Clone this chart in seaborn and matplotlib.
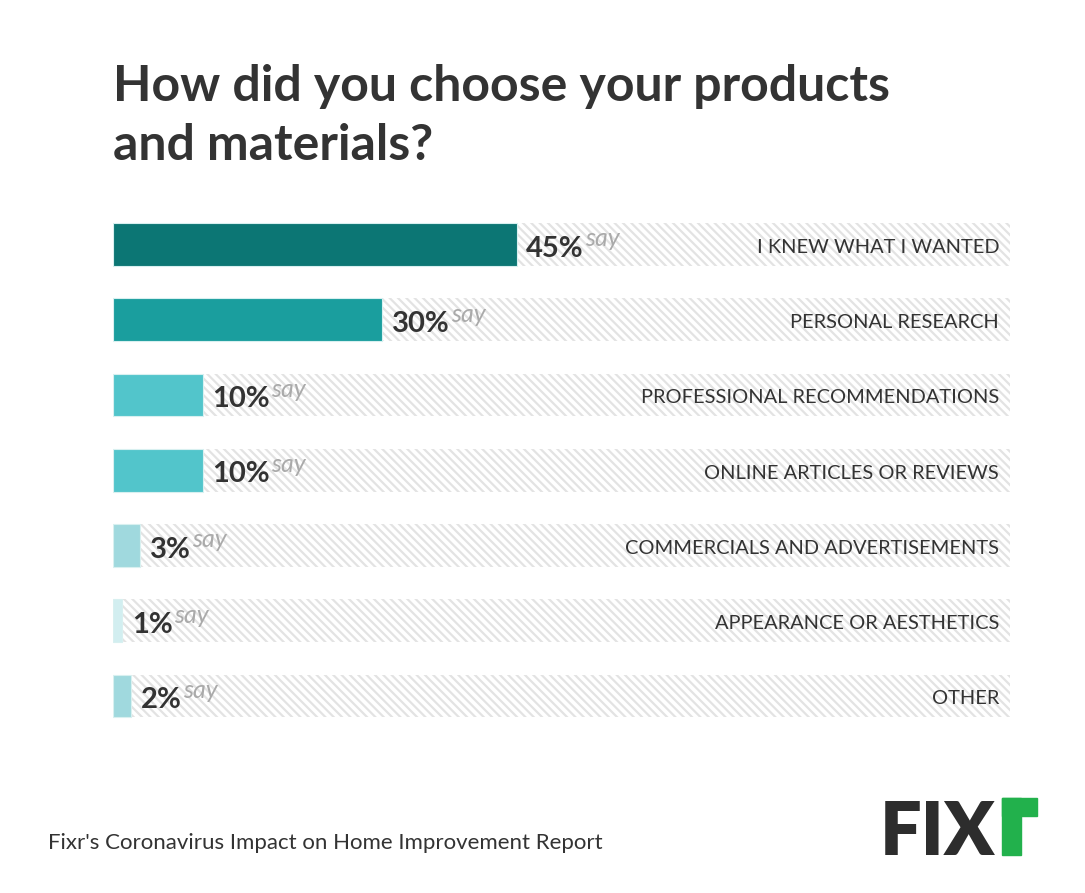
import matplotlib
matplotlib.use("Agg")
import matplotlib.pyplot as plt
import matplotlib.patches as mpatches
import seaborn as sns
import pandas as pd

# Datos
categorias = [
    "I KNEW WHAT I WANTED",
    "PERSONAL RESEARCH",
    "PROFESSIONAL RECOMMENDATIONS",
    "ONLINE ARTICLES OR REVIEWS",
    "COMMERCIALS AND ADVERTISEMENTS",
    "APPEARANCE OR AESTHETICS",
    "OTHER",
]
porcentajes = [45, 30, 10, 10, 3, 1, 2]
colores = ["#0c7674", "#1a9e9e", "#52c5cb", "#52c5cb", "#a0d9de", "#d2eef0", "#a0d9de"]

titulo = "How did you choose your products\nand materials?"
fuente = "Fixr's Coronavirus Impact on Home Improvement Report"

sns.set_theme(style="white")
plt.rcParams["font.family"] = ["Lato", "DejaVu Sans"]
plt.rcParams["hatch.linewidth"] = 1.6

TEXTO = "#333333"

df = pd.DataFrame({"categoria": categorias, "valor": porcentajes})

fig = plt.figure(figsize=(10.85, 8.93), dpi=100)
ax = fig.add_axes([113 / 1085, 0.1785, 897 / 1085, 0.5898])

# Fondo rayado de cada fila (100 %)
ax.barh(df["categoria"], 100, height=0.57, color="white", edgecolor="#e3e3e3",
        hatch="\\\\\\\\", linewidth=0, zorder=1)

sns.barplot(data=df, x="valor", y="categoria", hue="categoria", palette=colores,
            legend=False, width=0.57, linewidth=0.8, edgecolor="#d8f0f0",
            saturation=1, ax=ax, zorder=2)

ax.set_xlim(0, 100)
ax.set_ylim(6.5, -0.5)
ax.axis("off")

for i, (cat, val) in enumerate(zip(categorias, porcentajes)):
    t = ax.annotate(f"{val}%", xy=(val, i), xytext=(7, -3), textcoords="offset points",
                    ha="left", va="center", fontsize=21, fontweight="bold",
                    color=TEXTO, zorder=3)
    ax.annotate("say", xy=(1, 1), xycoords=t, xytext=(1, 6), textcoords="offset points",
                ha="left", va="top", fontsize=18, fontstyle="italic",
                color="#aaaaaa", zorder=3)
    ax.annotate(cat, xy=(98.8, i), xytext=(0, -2), textcoords="offset points",
                ha="right", va="center", fontsize=14.4, color=TEXTO, zorder=3)

fig.text(113 / 1085, 1 - 64 / 893, titulo, ha="left", va="top", fontsize=36,
         fontweight="bold", color=TEXTO, linespacing=1.38)
fig.text(48 / 1085, 1 - 843 / 893, fuente, ha="left", va="center", fontsize=16,
         color=TEXTO)

# Logo FIXR
fig.text(880 / 1085, 1 - 855 / 893, "FIX", ha="left", va="baseline", fontsize=53,
         fontweight="heavy", color="#2d2d2d")
verde = "#22b14c"
fig.patches.append(mpatches.Rectangle((1002 / 1085, 1 - 855 / 893), 19 / 1085, 57 / 893,
                                      transform=fig.transFigure, color=verde))
fig.patches.append(mpatches.Rectangle((1002 / 1085, 1 - 816 / 893), 35 / 1085, 18 / 893,
                                      transform=fig.transFigure, color=verde))

fig.savefig("out.png", dpi=100)
